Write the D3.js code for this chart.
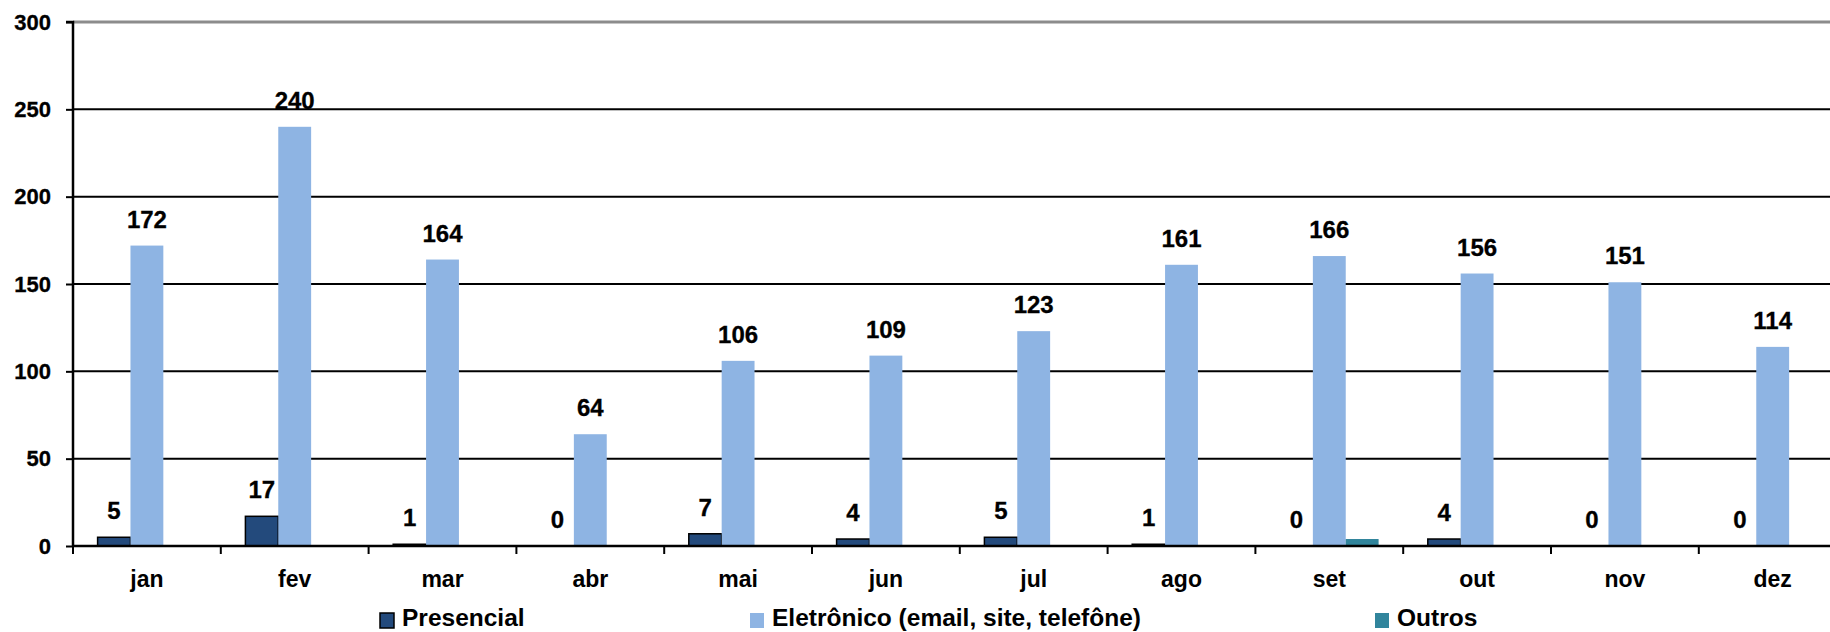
<!DOCTYPE html>
<html><head><meta charset="utf-8">
<script src="https://cdn.jsdelivr.net/npm/d3@7"></script>
<style>html,body{margin:0;padding:0;background:#fff;overflow:hidden}</style>
</head><body>
<svg id="chart" width="1830" height="632"></svg>
<script>
const months = ["jan","fev","mar","abr","mai","jun","jul","ago","set","out","nov","dez"];
const seriesNames = ["Presencial","Eletrônico (email, site, telefône)","Outros"];
const presencial = [5,17,1,0,7,4,5,1,0,4,0,0];
const eletronico = [172,240,164,64,106,109,123,161,166,156,151,114];
const outros = [0,0,0,0,0,0,0,0,4,0,0,0];
const yTicks = [0,50,100,150,200,250,300];
const colors = ["#234A7C","#8EB4E3","#31859C"];

const svg = d3.select("#chart");
const plotLeft = 73, plotTop = 22, plotBottom = 546, bandW = 147.8;
const x = d3.scaleBand().domain(months).range([plotLeft, plotLeft + bandW*12]).padding(0);
const xs = d3.scaleBand().domain([0,1,2]).range([24.6, bandW-24.6]).padding(0);
const y = d3.scaleLinear().domain([0,300]).range([plotBottom, plotTop]);
const FONT = "Liberation Sans, Arial, sans-serif";

// gridlines
svg.append("g").selectAll("line").data(yTicks.filter(d=>d>0)).join("line")
  .attr("x1", plotLeft).attr("x2", 1830)
  .attr("y1", d=>y(d)).attr("y2", d=>y(d))
  .attr("stroke", d=> d===300 ? "#8c8c8c" : "#000")
  .attr("stroke-width", d=> d===300 ? 3 : 2);

// y axis
const yAxis = d3.axisLeft(y).tickValues(yTicks).tickSize(7).tickPadding(15);
const gy = svg.append("g").attr("transform", `translate(${plotLeft},0)`).call(yAxis);
gy.select(".domain").attr("stroke","#000").attr("stroke-width",2.5).attr("d", `M-7,${plotTop}H0V${plotBottom}`);
gy.selectAll(".tick line").attr("stroke","#000").attr("stroke-width",2);
gy.selectAll(".tick text").attr("font-family",FONT).attr("font-weight","bold")
  .attr("font-size","22px").attr("fill","#000").attr("stroke","#000").attr("stroke-width",0.3);

// bars
const series = [presencial, eletronico, outros];
series.forEach((vals, si) => {
  svg.append("g").selectAll("rect").data(months.map((m,i)=>({m, v: vals[i]})).filter(d=>d.v>0)).join("rect")
    .attr("x", d => x(d.m) + xs(si))
    .attr("width", xs.bandwidth())
    .attr("y", d => y(d.v))
    .attr("height", d => plotBottom - y(d.v))
    .attr("fill", colors[si])
    .attr("stroke", si===0 ? "#000" : "none")
    .attr("stroke-width", si===0 ? 1.5 : 0);
});

// x axis
const gx = svg.append("g").attr("transform", `translate(0,${plotBottom})`);
gx.append("line").attr("x1", plotLeft).attr("x2", 1830).attr("y1",0).attr("y2",0).attr("stroke","#000").attr("stroke-width",2.5);
gx.selectAll("line.tk").data(months).join("line").attr("class","tk")
  .attr("x1", d=>x(d)).attr("x2", d=>x(d)).attr("y1",0).attr("y2",8)
  .attr("stroke","#000").attr("stroke-width",2);
gx.selectAll("text").data(months).join("text")
  .attr("x", d => x(d) + xs(1) + xs.bandwidth()/2)
  .attr("y", 41)
  .attr("text-anchor","middle")
  .attr("font-family",FONT)
  .attr("font-weight","bold").attr("font-size","23px").attr("fill","#000")
  .text(d=>d);

// value labels
[presencial, eletronico].forEach((vals, si) => {
  svg.append("g").selectAll("text").data(months.map((m,i)=>({m, v: vals[i]}))).join("text")
    .attr("x", d => x(d.m) + xs(si) + xs.bandwidth()/2)
    .attr("y", d => y(d.v) - 18)
    .attr("text-anchor","middle")
    .attr("font-family",FONT).attr("font-weight","bold")
    .attr("font-size","24px").attr("fill","#000").attr("stroke","#000").attr("stroke-width",0.3)
    .text(d => d.v);
});

// legend
const legX = [380, 750, 1375];
const lg = svg.append("g");
seriesNames.forEach((name, i) => {
  lg.append("rect").attr("x", legX[i]).attr("y", 613).attr("width", 14).attr("height", 15)
    .attr("fill", colors[i]).attr("stroke", i===0 ? "#000" : "none").attr("stroke-width", 1.5);
  lg.append("text").attr("x", legX[i] + 22).attr("y", 626)
    .attr("font-family",FONT)
    .attr("font-weight","bold").attr("font-size","24.5px").attr("fill","#000")
    .text(name);
});
</script>
</body></html>
